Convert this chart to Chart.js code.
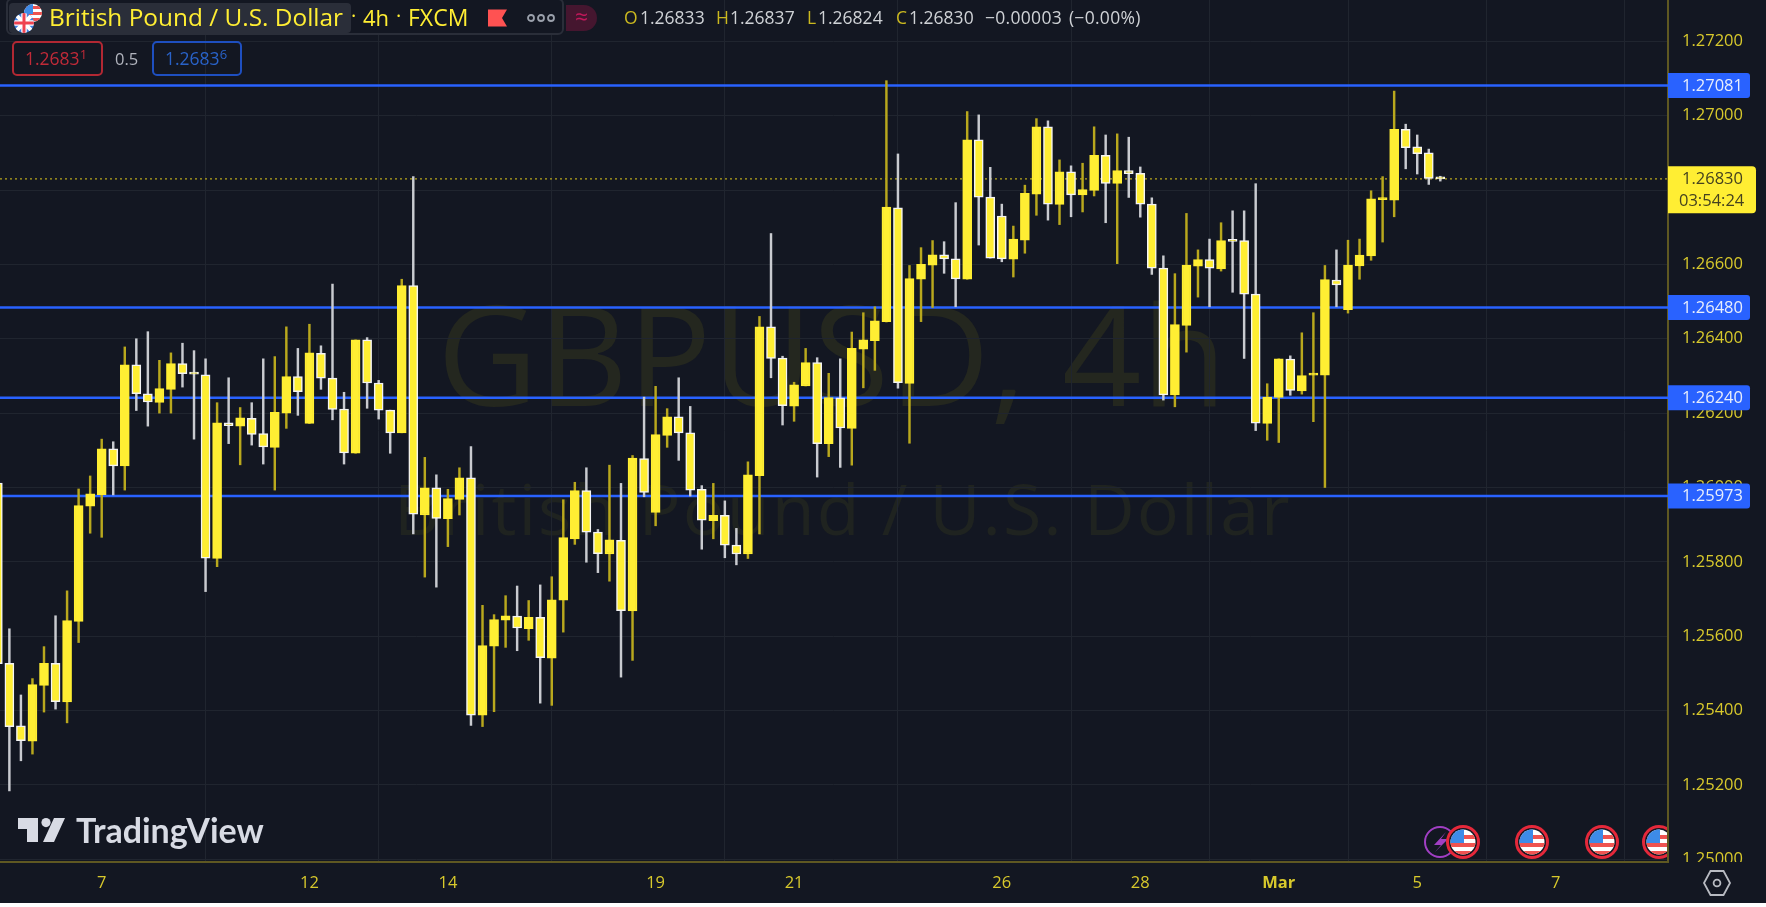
<!DOCTYPE html>
<html><head><meta charset="utf-8">
<script src="https://cdn.jsdelivr.net/npm/chart.js@4/dist/chart.umd.min.js"></script>
<style>
html,body{margin:0;padding:0;background:#fff;width:1766px;height:907px;overflow:hidden}
#wrap{position:absolute;left:0;top:0;width:1766px;height:903px;background:#131722;overflow:hidden;font-family:"Open Sans",sans-serif}
canvas{position:absolute;left:0;top:0}
.t{position:absolute;white-space:nowrap;line-height:1}
.wm{color:#24271f;font-family:"Open Sans",sans-serif}
.hd{color:#ffee33;font-size:22px}
.o{color:#cbb91f;font-size:17.5px}.v{color:#cfd2d6;font-size:17.5px}
.box{position:absolute;box-sizing:border-box;border-radius:5px;border:2px solid}
sup{font-size:13px;line-height:0;vertical-align:6px}
svg{position:absolute;overflow:visible}
</style></head><body>
<div id="wrap">
 <div class="t wm" style="left:437px;top:283px;font-size:139px">GBPUSD, 4h</div>
 <div class="t wm" style="left:394px;top:473px;font-size:70px;letter-spacing:2px;color:#1f2320">British Pound / U.S. Dollar</div>
 <canvas id="c" width="1766" height="903"></canvas>

 <div style="position:absolute;left:6px;top:-2px;width:558px;height:37px;box-sizing:border-box;border:2px solid #2a2e39;border-radius:6px;background:#131722"></div>
 <div style="position:absolute;left:9px;top:3px;width:342px;height:30px;background:#2a2e39;border-radius:4px"></div>
 <svg width="50" height="36" style="left:12px;top:0">
  <defs><clipPath id="cu"><circle cx="21" cy="13" r="9"/></clipPath><clipPath id="cb"><circle cx="12" cy="23" r="10"/></clipPath></defs>
  <g clip-path="url(#cu)"><rect x="10" y="3" width="24" height="22" fill="#fff"/><rect x="10" y="6" width="24" height="3" fill="#ef5350"/><rect x="10" y="12" width="24" height="3" fill="#ef5350"/><rect x="10" y="18" width="24" height="3" fill="#ef5350"/><rect x="10" y="3" width="11" height="11" fill="#3d8be8"/></g>
  <g clip-path="url(#cb)"><rect x="0" y="12" width="24" height="22" fill="#3f7fe0"/><path d="M2 13L22 33M22 13L2 33" stroke="#fff" stroke-width="4"/><path d="M12 12V34M1 23H23" stroke="#fff" stroke-width="5.5"/><path d="M12 12V34M1 23H23" stroke="#ef4350" stroke-width="3"/></g>
 </svg>
 <div class="t hd" style="left:49px;top:5px;font-size:24.4px">British Pound / U.S. Dollar</div>
 <div class="t hd" style="left:351px;top:6px;font-size:20px;width:10px">·</div>
 <div class="t hd" style="left:363px;top:6px">4h</div>
 <div class="t hd" style="left:396px;top:6px;font-size:20px">·</div>
 <div class="t hd" style="left:408px;top:6px;font-size:23px">FXCM</div>
 <svg width="20" height="20" style="left:488px;top:8px"><path d="M0 1.5H19L14 10L19 18.5H0Z" fill="#ff5252"/></svg>
 <svg width="30" height="10" style="left:527px;top:13px"><g fill="none" stroke="#9aa0ab" stroke-width="1.8"><circle cx="4" cy="5" r="3"/><circle cx="14" cy="5" r="3"/><circle cx="24" cy="5" r="3"/></g></svg>
 <div style="position:absolute;left:566px;top:5px;width:31px;height:26px;background:#45162f;border-radius:0 13px 13px 0"></div>
 <div class="t" style="left:575px;top:5px;font-size:23px;color:#c2185b">≈</div>

 <div class="t o" style="left:624px;top:9px">O</div><div class="t v" style="left:640px;top:9px">1.26833</div>
 <div class="t o" style="left:716px;top:9px">H</div><div class="t v" style="left:730px;top:9px">1.26837</div>
 <div class="t o" style="left:807px;top:9px">L</div><div class="t v" style="left:818px;top:9px">1.26824</div>
 <div class="t o" style="left:896px;top:9px">C</div><div class="t v" style="left:909px;top:9px">1.26830</div>
 <div class="t v" style="left:985px;top:9px;letter-spacing:.3px;word-spacing:2px">−0.00003 (−0.00%)</div>

 <div class="box" style="left:12px;top:41px;width:91px;height:35px;border-color:#b22833"></div>
 <div class="t" style="left:25px;top:50px;font-size:17.5px;color:#c02a38">1.2683<sup>1</sup></div>
 <div class="t" style="left:115px;top:51px;font-size:16.5px;color:#b2b5be">0.5</div>
 <div class="box" style="left:152px;top:41px;width:90px;height:35px;border-color:#1e4fc0"></div>
 <div class="t" style="left:165px;top:50px;font-size:17.5px;color:#2962c8">1.2683<sup>6</sup></div>

 <svg width="48" height="24" style="left:18px;top:818px"><path d="M0 0H20V24H9V11H0Z M36 0H47L36 24H25Z" fill="#d8dbe4"/><circle cx="28" cy="4.6" r="4.6" fill="#d8dbe4"/></svg>
 <div class="t" style="left:76px;top:813px;font-family:Lato,sans-serif;font-weight:700;font-size:34px;color:#d8dbe4">TradingView</div>

 <div style="position:absolute;left:0;top:0;width:1667px;height:861px;overflow:hidden;pointer-events:none">
 <svg width="1667" height="861" style="left:0;top:0">
  <defs>
   <clipPath id="fc"><circle cx="0" cy="0" r="12.5"/></clipPath>
   <g id="us">
    <circle r="15.5" fill="#131722" stroke="#e5283a" stroke-width="3"/>
    <g clip-path="url(#fc)"><rect x="-13" y="-13" width="26" height="26" fill="#fff"/><rect x="-13" y="-7" width="26" height="4" fill="#ef5350"/><rect x="-13" y="1" width="26" height="4" fill="#ef5350"/><rect x="-13" y="9" width="26" height="4" fill="#ef5350"/><rect x="-13" y="-13" width="14" height="14" fill="#3d8be8"/></g>
   </g>
  </defs>
  <circle cx="1440" cy="842" r="15" fill="none" stroke="#a13fc4" stroke-width="2"/>
  <path d="M1446 832L1434 845H1441L1435 852L1448 839H1441Z" fill="#a13fc4"/>
  <use href="#us" x="1463" y="842"/><use href="#us" x="1532" y="842"/><use href="#us" x="1602" y="842"/><use href="#us" x="1659" y="842"/>
 </svg></div>
 <svg width="30" height="30" style="left:1702px;top:868px"><path d="M8.5 3H21.5L28 15L21.5 27H8.5L2 15Z" fill="none" stroke="#b8bbc2" stroke-width="1.8"/><circle cx="15" cy="15" r="3.4" fill="none" stroke="#b8bbc2" stroke-width="1.8"/></svg>
</div>
<script>
// Candle values (GBP/USD, 4h)
const opens=[1.26012,1.25527,1.25359,1.25318,1.25468,1.25527,1.25423,1.25640,1.25950,1.25981,
1.26104,1.26058,1.26330,1.26252,1.26229,1.26264,1.26333,1.26308,1.26303,1.25809,
1.26174,1.26165,1.26186,1.26145,1.26108,1.26200,1.26298,1.26172,1.26361,1.26294,
1.26211,1.26092,1.26397,1.26281,1.26208,1.26147,1.26543,1.25926,1.25999,1.25916,
1.25968,1.26026,1.25388,1.25573,1.25643,1.25654,1.25620,1.25651,1.25541,1.25697,
1.25862,1.25992,1.25880,1.25821,1.25858,1.25668,1.26078,1.25933,1.26140,1.26190,
1.26147,1.25995,1.25911,1.25925,1.25845,1.25821,1.26032,1.26432,1.26348,1.26219,
1.26273,1.26336,1.26118,1.26241,1.26159,1.26372,1.26395,1.26446,1.26752,1.26280,
1.26560,1.26598,1.26626,1.26615,1.26560,1.26935,1.26781,1.26730,1.26614,1.26665,
1.26789,1.26970,1.26761,1.26849,1.26787,1.26799,1.26893,1.26818,1.26852,1.26845,
1.26762,1.26590,1.26249,1.26436,1.26595,1.26613,1.26588,1.26665,1.26664,1.26520,
1.26172,1.26242,1.26345,1.26260,1.26302,1.26302,1.26558,1.26478,1.26596,1.26623,
1.26774,1.26773,1.26963,1.26916,1.26900,1.26833];
const highs=[1.26012,1.25620,1.25442,1.25486,1.25572,1.25655,1.25722,1.25996,1.26031,1.26130,
1.26123,1.26378,1.26400,1.26419,1.26342,1.26362,1.26388,1.26368,1.26346,1.26228,
1.26295,1.26215,1.26228,1.26346,1.26352,1.26432,1.26374,1.26439,1.26381,1.26547,
1.26256,1.26397,1.26403,1.26288,1.26208,1.26560,1.26836,1.26081,1.26034,1.25995,
1.26053,1.26110,1.25683,1.25658,1.25709,1.25735,1.25696,1.25738,1.25760,1.25967,
1.26014,1.26053,1.25887,1.26060,1.26011,1.26086,1.26243,1.26272,1.26212,1.26295,
1.26218,1.26005,1.26011,1.25964,1.25890,1.26069,1.26460,1.26683,1.26353,1.26283,
1.26374,1.26349,1.26307,1.26346,1.26418,1.26470,1.26486,1.27094,1.26897,1.26597,
1.26645,1.26664,1.26661,1.26766,1.27011,1.27002,1.26861,1.26762,1.26703,1.26813,
1.26992,1.26986,1.26881,1.26865,1.26872,1.26970,1.26948,1.26951,1.26942,1.26862,
1.26779,1.26623,1.26575,1.26737,1.26639,1.26668,1.26712,1.26744,1.26744,1.26817,
1.26279,1.26346,1.26354,1.26416,1.26470,1.26597,1.26639,1.26665,1.26668,1.26798,
1.26836,1.27066,1.26977,1.26948,1.26910,1.26837];
const lows=[1.25526,1.25184,1.25265,1.25283,1.25396,1.25404,1.25367,1.25583,1.25877,1.25866,
1.25980,1.25993,1.26207,1.26165,1.26200,1.26200,1.26270,1.26130,1.25720,1.25787,
1.26118,1.26061,1.26114,1.26063,1.25993,1.26159,1.26194,1.26172,1.26264,1.26182,
1.26063,1.26092,1.26213,1.26184,1.26092,1.26147,1.25875,1.25759,1.25732,1.25841,
1.25926,1.25360,1.25357,1.25397,1.25570,1.25561,1.25589,1.25420,1.25414,1.25611,
1.25847,1.25799,1.25771,1.25748,1.25490,1.25535,1.25975,1.25897,1.26108,1.26073,
1.25977,1.25834,1.25862,1.25811,1.25792,1.25809,1.25875,1.26295,1.26168,1.26178,
1.26273,1.26028,1.26083,1.26054,1.26060,1.26268,1.26315,1.26445,1.26267,1.26119,
1.26446,1.26484,1.26576,1.26486,1.26560,1.26652,1.26617,1.26607,1.26566,1.26630,
1.26732,1.26719,1.26707,1.26728,1.26741,1.26784,1.26712,1.26602,1.26780,1.26727,
1.26573,1.26235,1.26217,1.26364,1.26512,1.26486,1.26582,1.26525,1.26347,1.26153,
1.26127,1.26121,1.26248,1.26251,1.26177,1.26000,1.26486,1.26469,1.26560,1.26611,
1.26660,1.26728,1.26857,1.26843,1.26815,1.26824];
const closes=[1.25526,1.25357,1.25319,1.25470,1.25527,1.25424,1.25642,1.25951,1.25983,1.26104,
1.26058,1.26330,1.26252,1.26230,1.26266,1.26333,1.26306,1.26305,1.25810,1.26174,
1.26166,1.26187,1.26143,1.26109,1.26202,1.26298,1.26258,1.26362,1.26294,1.26210,
1.26093,1.26397,1.26281,1.26208,1.26147,1.26543,1.25928,1.25999,1.25917,1.25970,
1.26026,1.25388,1.25575,1.25645,1.25655,1.25622,1.25651,1.25542,1.25698,1.25865,
1.25992,1.25880,1.25822,1.25859,1.25669,1.26079,1.25987,1.26142,1.26190,1.26147,
1.25993,1.25912,1.25925,1.25845,1.25821,1.26034,1.26432,1.26347,1.26220,1.26276,
1.26336,1.26118,1.26242,1.26160,1.26374,1.26397,1.26448,1.26754,1.26282,1.26562,
1.26600,1.26626,1.26615,1.26561,1.26935,1.26781,1.26617,1.26615,1.26668,1.26791,
1.26970,1.26762,1.26849,1.26787,1.26801,1.26893,1.26818,1.26852,1.26844,1.26762,
1.26590,1.26249,1.26438,1.26598,1.26613,1.26590,1.26664,1.26662,1.26520,1.26173,
1.26243,1.26346,1.26261,1.26301,1.26304,1.26559,1.26545,1.26598,1.26625,1.26776,
1.26776,1.26963,1.26914,1.26898,1.26831,1.26830];

const yTicks=[1.272,1.27,1.268,1.266,1.264,1.262,1.26,1.258,1.256,1.254,1.252,1.25];
const yTickLabels=['1.27200','1.27000','1.26800','1.26600','1.26400','1.26200','1.26000','1.25800','1.25600','1.25400','1.25200','1.25000'];
const xTickCandles=[9,27,39,57,69,87,99,111,123,135];
const xTickLabels=['7','12','14','19','21','26','28','Mar','5','7'];
const levelPrices=[1.27081,1.26484,1.26241,1.25977];
const levelLabels=['1.27081','1.26480','1.26240','1.25973'];
const lastPrice=1.2683;
const lastPriceLabel='1.26830';
const countdownLabel='03:54:24';

const X_MIN=0.187,X_MAX=144.73,Y_MIN=1.249928,Y_MAX=1.27311;
const UP_WICK='#b9a81d',DOWN_WICK='#c9cbd0',FILL='#ffee33',TICK='#d8c92c',AXIS='#5f5822',GRID='#20252f';
const FONT='"Open Sans",sans-serif';
const TICK_SIZE=16.5;
const isDown=i=>closes[i]<opens[i];

const idx=opens.map((_,i)=>i);
const hline=(v)=>[{x:X_MIN,y:v},{x:X_MAX,y:v}];
const noPad=s=>{s.paddingTop=0;s.paddingBottom=0;s.paddingLeft=0;s.paddingRight=0};

const overlay={
 id:'overlay',
 afterDraw(ch){
  const c=ch.ctx,y=ch.scales.y,L=ch.chartArea.right;
  c.save();
  c.save();c.beginPath();c.rect(L,0,98,ch.chartArea.bottom);c.clip();
  c.fillStyle=TICK;c.font=TICK_SIZE+'px '+FONT;c.textAlign='left';c.textBaseline='middle';
  c.fillText(yTickLabels[yTickLabels.length-1],L+14,y.getPixelForValue(yTicks[yTicks.length-1]));
  c.restore();
  c.textAlign='left';c.textBaseline='middle';c.font=TICK_SIZE+'px '+FONT;
  levelPrices.forEach((v,i)=>{
   const p=y.getPixelForValue(v);
   c.fillStyle='#2962ff';c.beginPath();c.roundRect(L,p-12.5,82,25,[0,3,3,0]);c.fill();
   c.fillStyle='#e8eefc';c.fillText(levelLabels[i],L+14,p+0.5);
  });
  const p=y.getPixelForValue(lastPrice);
  c.fillStyle=FILL;c.beginPath();c.roundRect(L,p-12.5,88,47,[0,4,4,0]);c.fill();
  c.fillStyle='#45421f';c.fillText(lastPriceLabel,L+14,p);c.fillText(countdownLabel,L+11,p+22);
  c.restore();
 }
};

new Chart(document.getElementById('c'),{
 data:{datasets:[
  ...levelPrices.map(v=>({type:'line',data:hline(v),borderColor:'#2962ff',borderWidth:2.5,pointRadius:0,order:4})),
  {type:'line',data:hline(lastPrice),borderColor:'#b9a81d',borderWidth:1.4,borderDash:[2,3],pointRadius:0,order:3},
  {type:'bar',data:idx.map(i=>({x:i,y:[lows[i],highs[i]]})),backgroundColor:idx.map(i=>isDown(i)?DOWN_WICK:UP_WICK),borderWidth:0,barThickness:1.8,grouped:false,order:2},
  {type:'bar',data:idx.map(i=>({x:i,y:[opens[i],closes[i]]})),backgroundColor:FILL,borderColor:idx.map(i=>isDown(i)?'#f4f4f4':FILL),borderWidth:1.5,borderSkipped:false,barThickness:9,minBarLength:2,grouped:false,order:1}
 ]},
 options:{
  responsive:false,animation:false,devicePixelRatio:1,events:[],
  layout:{padding:0},
  plugins:{legend:{display:false},tooltip:{enabled:false},title:{display:false}},
  scales:{
   x:{type:'linear',min:X_MIN,max:X_MAX,offset:false,
    afterBuildTicks:s=>{s.ticks=xTickCandles.map(v=>({value:v}))},
    afterFit:s=>{s.height=41;noPad(s)},
    grid:{color:GRID,lineWidth:1,drawTicks:false},
    border:{color:AXIS,width:2},
    ticks:{autoSkip:false,maxRotation:0,padding:11,color:TICK,
     font:ctx=>({family:FONT,size:TICK_SIZE,weight:(ctx.tick&&ctx.tick.value===111)?'700':'400'}),
     callback:v=>xTickLabels[xTickCandles.indexOf(v)]}},
   y:{type:'linear',position:'right',min:Y_MIN,max:Y_MAX,
    afterBuildTicks:s=>{s.ticks=yTicks.map(v=>({value:v}))},
    afterFit:s=>{s.width=98;noPad(s)},
    grid:{color:GRID,lineWidth:1,drawTicks:false},
    border:{color:AXIS,width:2},
    ticks:{autoSkip:false,padding:14,color:TICK,font:{family:FONT,size:TICK_SIZE},
     callback:v=>{const k=yTicks.indexOf(v);return k===yTicks.length-1?'':yTickLabels[k]}}}
  }
 },
 plugins:[overlay]
});
</script>
</body></html>
